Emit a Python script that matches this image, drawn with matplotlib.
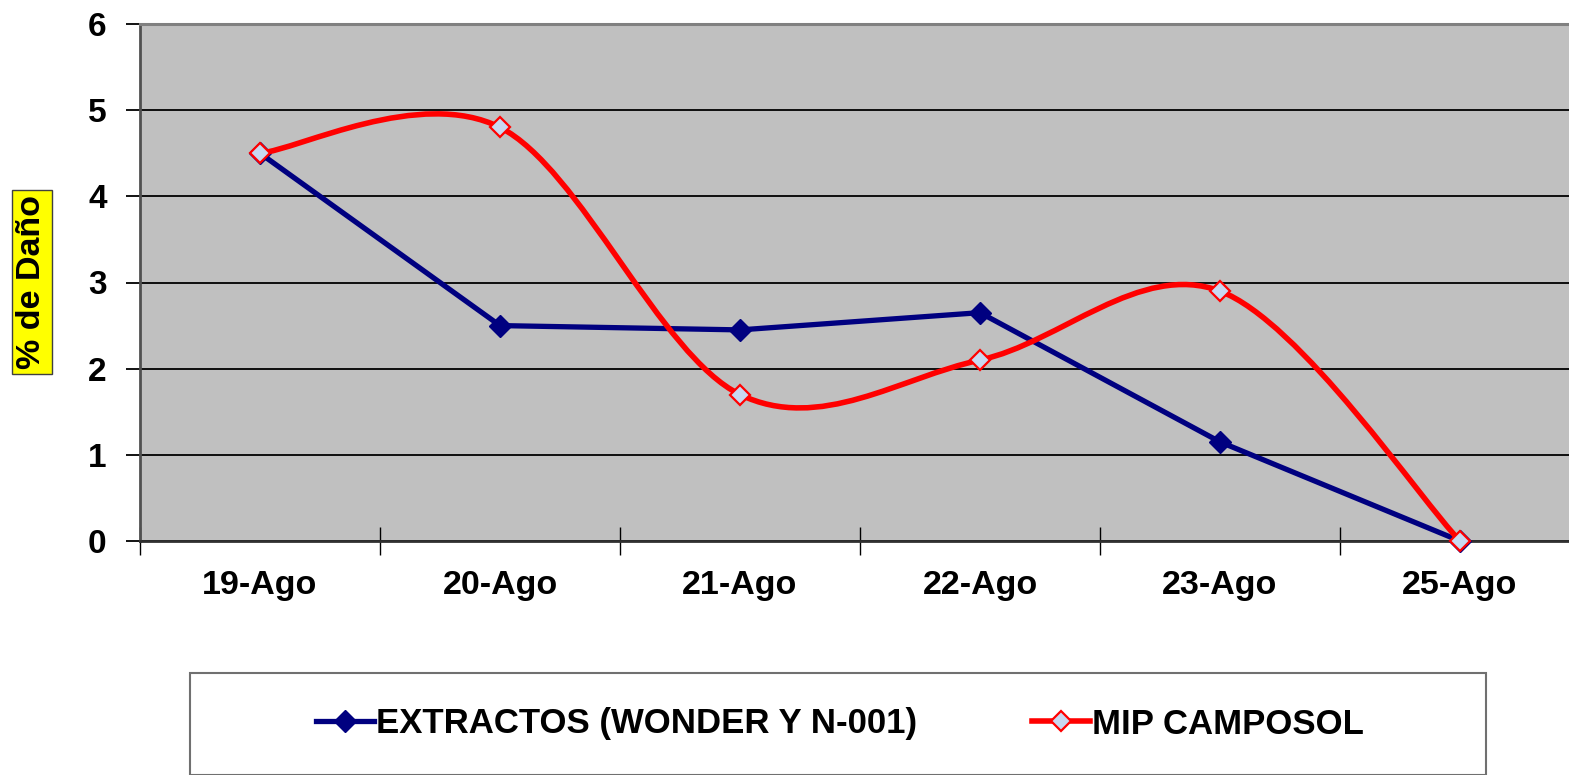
import matplotlib
matplotlib.use("Agg")
import matplotlib.pyplot as plt
from matplotlib.path import Path
from matplotlib.patches import PathPatch, Rectangle
from matplotlib.lines import Line2D
import numpy as np

categories = ["19-Ago", "20-Ago", "21-Ago", "22-Ago", "23-Ago", "25-Ago"]
extractos = [4.5, 2.5, 2.45, 2.65, 1.15, 0.0]
mip = [4.5, 4.8, 1.7, 2.1, 2.9, 0.0]
series_names = ["EXTRACTOS (WONDER Y N-001)", "MIP CAMPOSOL"]
y_ticks = [0, 1, 2, 3, 4, 5, 6]
y_label = "% de Daño"

FONT = "Liberation Sans"
NAVY = "#000080"
RED = "#FF0000"
MFILL = "#C8D8F0"

W, H = 1569, 775
fig = plt.figure(figsize=(W / 100, H / 100), dpi=100)
ax = fig.add_axes([140 / W, 1 - 541 / H, 1440 / W, 517 / H])
ax.set_facecolor("#C0C0C0")

x = np.arange(len(categories))

# blue straight line
ax.plot(x, extractos, color=NAVY, lw=3.8, marker="D", ms=11,
        mfc=NAVY, mec=NAVY, zorder=3, clip_on=False)

# red smoothed line (Catmull-Rom style Bezier, like Excel smoothing)
pts = np.column_stack([x, mip]).astype(float)
n = len(pts)
verts = [pts[0]]
codes = [Path.MOVETO]
for i in range(n - 1):
    p0 = pts[i - 1] if i > 0 else pts[i]
    p1 = pts[i]
    p2 = pts[i + 1]
    p3 = pts[i + 2] if i + 2 < n else pts[i + 1]
    c1 = p1 + (p2 - p0) / 6.0
    c2 = p2 - (p3 - p1) / 6.0
    verts += [c1, c2, p2]
    codes += [Path.CURVE4] * 3
patch = PathPatch(Path(verts, codes), fill=False, edgecolor=RED, lw=4.0,
                  zorder=4, clip_on=False, capstyle="round", joinstyle="round")
ax.add_patch(patch)
ax.plot(x, mip, linestyle="none", marker="D", ms=10.5, mfc=MFILL, mec=RED,
        mew=1.6, zorder=5, clip_on=False)

ax.set_xlim(-0.5, len(categories) - 0.5)
ax.set_ylim(0, 6)

# y axis
ax.set_yticks(y_ticks)
ax.set_yticklabels([str(v) for v in y_ticks], fontfamily=FONT,
                   fontweight="bold", fontsize=24)
ax.tick_params(axis="y", direction="out", length=10, width=1.3,
               color="black", pad=14)
ax.yaxis.grid(True, color="black", lw=1.3)
ax.set_axisbelow(True)

# x axis: ticks at boundaries, labels at centers
ax.set_xticks(np.arange(-0.5, len(categories) + 0.5, 1.0))
ax.set_xticklabels([])
ax.tick_params(axis="x", which="major", direction="inout", length=20,
               width=1.0, color="black")
ax.set_xticks(x, minor=True)
ax.set_xticklabels(categories, minor=True, fontfamily=FONT,
                   fontweight="bold", fontsize=24.5)
ax.tick_params(axis="x", which="minor", length=0, pad=21)

for side in ["top", "right"]:
    ax.spines[side].set_color("#808080")
    ax.spines[side].set_linewidth(2.2)
ax.spines["left"].set_color("#505050")
ax.spines["left"].set_linewidth(2.0)
ax.spines["bottom"].set_color("#303030")
ax.spines["bottom"].set_linewidth(2.0)

# y label in yellow box
fig.text(32 / W, 1 - 282 / H, y_label, rotation=90, ha="center", va="center",
         fontfamily=FONT, fontweight="bold", fontsize=24.5,
         bbox=dict(boxstyle="square,pad=0.14", facecolor="#FFFF00",
                   edgecolor="#404040", lw=1.0))

# legend frame
fig.patches.append(Rectangle((190 / W, 0.0), 1296 / W, 102 / H,
                             transform=fig.transFigure, facecolor="white",
                             edgecolor="#707070", lw=1.5, zorder=0))
handles = [
    Line2D([], [], color=NAVY, lw=3.8, marker="D", ms=11, mfc=NAVY, mec=NAVY),
    Line2D([], [], color=RED, lw=4.0, marker="D", ms=10.5, mfc=MFILL, mec=RED,
           mew=1.6),
]
leg = fig.legend(handles, series_names, loc="center",
                 bbox_to_anchor=(840 / W, 1 - 724 / H), ncol=2, frameon=False,
                 prop=dict(family=FONT, weight="bold", size=25),
                 handlelength=1.68, handletextpad=0.06, columnspacing=3.3,
                 borderpad=0, borderaxespad=0)

fig.savefig("out.png", dpi=100)
